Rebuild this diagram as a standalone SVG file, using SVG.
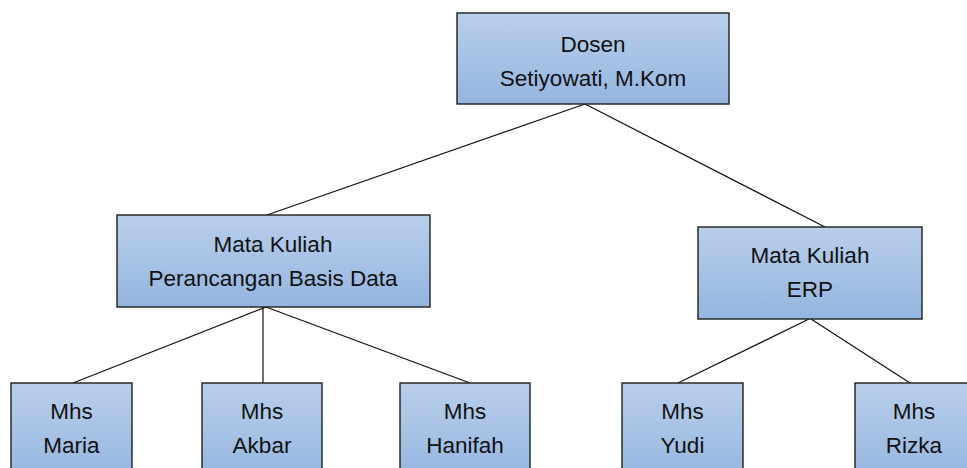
<svg xmlns="http://www.w3.org/2000/svg" width="967" height="468" viewBox="0 0 967 468">
<defs>
<linearGradient id="g" x1="0" y1="0" x2="0" y2="1">
<stop offset="0" stop-color="#b9cfeb"/>
<stop offset="1" stop-color="#94b5e0"/>
</linearGradient>
<linearGradient id="gb" x1="0" y1="383" x2="0" y2="483" gradientUnits="userSpaceOnUse">
<stop offset="0" stop-color="#b9cfeb"/>
<stop offset="1" stop-color="#94b5e0"/>
</linearGradient>
<style>
.box{fill:url(#g);stroke:#1e1e1e;stroke-width:1.4}
.bbox{fill:url(#gb);stroke:#1e1e1e;stroke-width:1.4}
.t{font-family:"Liberation Sans",Arial,sans-serif;font-size:22.5px;fill:#111;text-anchor:middle}
.c{stroke:#111;stroke-width:1.2;fill:none}
</style>
</defs>
<rect width="967" height="468" fill="#fff"/>
<g id="connectors">
<line class="c" x1="585" y1="104" x2="267" y2="215"/>
<line class="c" x1="585" y1="104" x2="825" y2="227"/>
<line class="c" x1="266" y1="307" x2="73" y2="383"/>
<line class="c" x1="263" y1="307" x2="263" y2="383"/>
<line class="c" x1="266" y1="307" x2="470" y2="383"/>
<line class="c" x1="809" y1="319" x2="678" y2="383"/>
<line class="c" x1="811" y1="319" x2="910" y2="383"/>
</g>
<g id="dosen">
<rect class="box" x="457" y="13" width="272" height="91"/>
<text class="t" x="593" y="52">Dosen</text>
<text class="t" x="593" y="86">Setiyowati, M.Kom</text>
</g>
<g id="mk-pbd">
<rect class="box" x="117" y="215" width="313" height="92"/>
<text class="t" x="273" y="252">Mata Kuliah</text>
<text class="t" x="273" y="286">Perancangan Basis Data</text>
</g>
<g id="mk-erp">
<rect class="box" x="698" y="227" width="224" height="92"/>
<text class="t" x="810" y="263">Mata Kuliah</text>
<text class="t" x="810" y="297">ERP</text>
</g>
<g id="mhs-maria">
<rect class="bbox" x="11" y="383" width="121" height="100"/>
<text class="t" x="71.5" y="419">Mhs</text>
<text class="t" x="71.5" y="453">Maria</text>
</g>
<g id="mhs-akbar">
<rect class="bbox" x="202" y="383" width="120" height="100"/>
<text class="t" x="262" y="419">Mhs</text>
<text class="t" x="262" y="453">Akbar</text>
</g>
<g id="mhs-hanifah">
<rect class="bbox" x="400" y="383" width="130" height="100"/>
<text class="t" x="465" y="419">Mhs</text>
<text class="t" x="465" y="453">Hanifah</text>
</g>
<g id="mhs-yudi">
<rect class="bbox" x="622" y="383" width="121" height="100"/>
<text class="t" x="682.5" y="419">Mhs</text>
<text class="t" x="682.5" y="453">Yudi</text>
</g>
<g id="mhs-rizka">
<rect class="bbox" x="855" y="383" width="118" height="100"/>
<text class="t" x="914" y="419">Mhs</text>
<text class="t" x="914" y="453">Rizka</text>
</g>
</svg>
